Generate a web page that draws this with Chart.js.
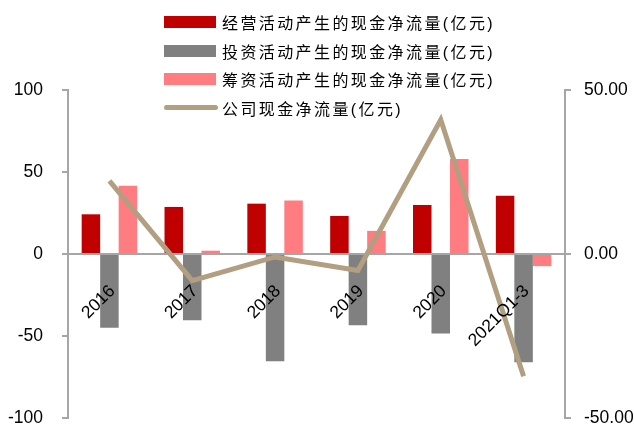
<!DOCTYPE html>
<html lang="zh">
<head>
<meta charset="UTF-8">
<title>现金流量</title>
<script src="https://cdn.jsdelivr.net/npm/chart.js"></script>
<style>
    body { margin: 0; background: #fff; }
    #wrap { position: relative; width: 634px; height: 426px; }
    #legend {
        position: absolute; left: 164px; top: 8px;
        font-family: "Liberation Sans", "Noto Sans CJK SC", sans-serif;
        font-size: 16px; color: #000;
    }
    .item { display: flex; align-items: center; height: 28.5px; }
    .swatch { width: 52px; height: 12px; margin-right: 6px; }
    .swatch.line { height: 5px; border-radius: 3px; margin-right: 4px; width: 54px; }
    .txt { letter-spacing: 2.4px; white-space: nowrap; }
</style>
</head>
<body>
<div id="wrap">
    <canvas id="chart" width="634" height="426"></canvas>
    <div id="legend"></div>
</div>
<script>
    const labels = ['2016', '2017', '2018', '2019', '2020', '2021Q1-3'];
    const operating = [24.2, 28.7, 30.7, 23.2, 29.9, 35.5];
    const investing = [-44.9, -40.4, -65.4, -43.4, -48.4, -66.0];
    const financing = [41.6, 2.0, 32.6, 14.1, 58.0, -7.4];
    const netCash = [22.3, -8.1, -0.9, -5.0, 40.9, -37.3];

    const names = [
        '经营活动产生的现金净流量(亿元)',
        '投资活动产生的现金净流量(亿元)',
        '筹资活动产生的现金净流量(亿元)',
        '公司现金净流量(亿元)'
    ];
    const colors = ['#c00000', '#808080', '#ff7c80', '#b29e80'];

    const axisGray = '#a6a6a6';
    const tickFont = { family: '"Liberation Sans", Arial, sans-serif', size: 17.5 };

    function barSet(i, data) {
        return {
            type: 'bar',
            label: names[i],
            data: data,
            backgroundColor: colors[i],
            yAxisID: 'y',
            order: 1,
            barPercentage: 1,
            categoryPercentage: 0.67
        };
    }

    const chart = new Chart(document.getElementById('chart'), {
        data: {
            labels: labels,
            datasets: [
                barSet(0, operating),
                barSet(1, investing),
                barSet(2, financing),
                {
                    type: 'line',
                    label: names[3],
                    data: netCash,
                    yAxisID: 'y1',
                    borderColor: colors[3],
                    borderWidth: 5,
                    pointRadius: 0,
                    tension: 0,
                    order: 0
                }
            ]
        },
        options: {
            responsive: false,
            animation: false,
            layout: { padding: { top: 90, left: 7, right: 0, bottom: 8 } },
            plugins: {
                legend: { display: false },
                tooltip: { enabled: false }
            },
            scales: {
                x: {
                    position: { y: 0 },
                    grid: { display: false },
                    border: { display: true, color: axisGray, width: 2 },
                    ticks: {
                        z: 1,
                        color: '#000',
                        font: tickFont,
                        autoSkip: false,
                        minRotation: 45,
                        maxRotation: 45,
                        padding: 19,
                        labelOffset: 3
                    },
                    afterFit: function (s) { s.height = 0; }
                },
                y: {
                    position: 'left',
                    min: -100,
                    max: 100,
                    grid: { drawOnChartArea: false, color: axisGray, tickLength: 6, lineWidth: 2 },
                    border: { color: axisGray, width: 2 },
                    ticks: { stepSize: 50, color: '#000', font: tickFont, padding: 19 },
                    afterFit: function (s) { s.width = 61; s.paddingTop = 8; s.paddingBottom = 8; }
                },
                y1: {
                    position: 'right',
                    min: -50,
                    max: 50,
                    grid: { drawOnChartArea: false, color: axisGray, tickLength: 6, lineWidth: 2 },
                    border: { color: axisGray, width: 2 },
                    ticks: {
                        stepSize: 50,
                        color: '#000',
                        font: tickFont,
                        padding: 13,
                        callback: function (v) { return Number(v).toFixed(2); }
                    },
                    afterFit: function (s) { s.width = 69; s.paddingTop = 8; s.paddingBottom = 8; }
                }
            }
        }
    });

    // legend built from the chart's datasets
    const legend = document.getElementById('legend');
    chart.data.datasets.forEach(function (ds) {
        const row = document.createElement('div');
        row.className = 'item';
        const sw = document.createElement('span');
        sw.className = ds.type === 'line' ? 'swatch line' : 'swatch';
        sw.style.background = ds.type === 'line' ? ds.borderColor : ds.backgroundColor;
        const t = document.createElement('span');
        t.className = 'txt';
        t.textContent = ds.label;
        row.appendChild(sw);
        row.appendChild(t);
        legend.appendChild(row);
    });
</script>
</body>
</html>
